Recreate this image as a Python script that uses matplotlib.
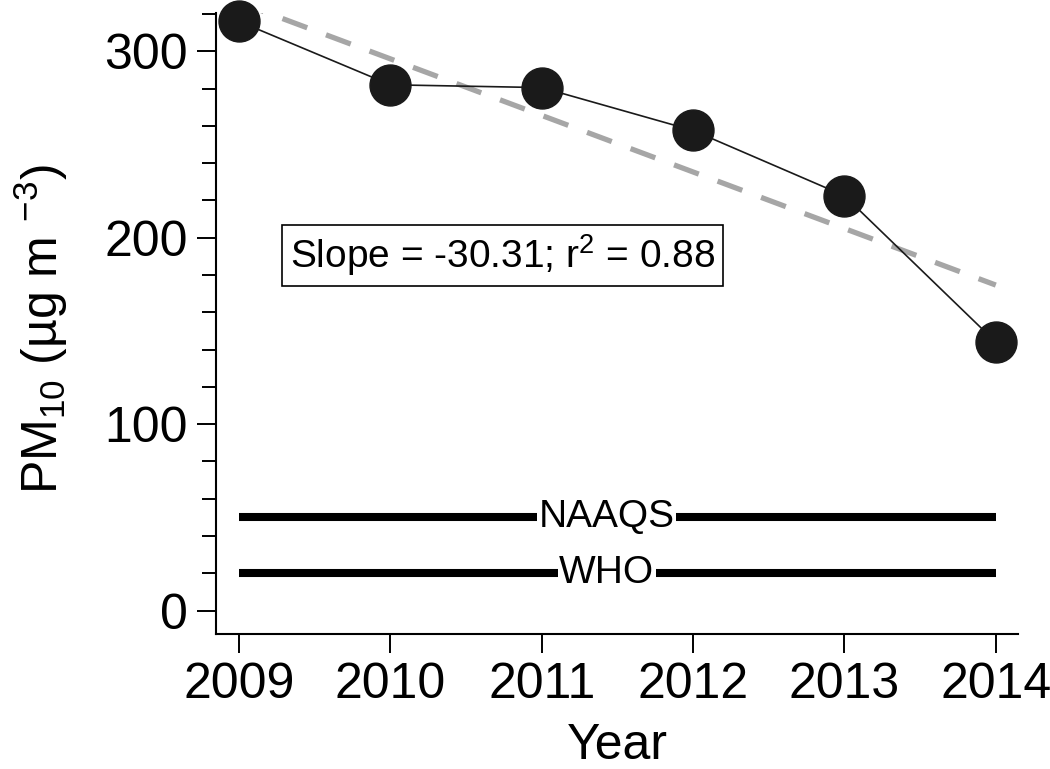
import numpy as np
import matplotlib
matplotlib.use("Agg")
import matplotlib.pyplot as plt
from matplotlib.ticker import MultipleLocator

plt.rcParams['font.family'] = ['Liberation Sans', 'DejaVu Sans']
plt.rcParams['mathtext.fontset'] = 'custom'
plt.rcParams['mathtext.rm'] = 'Liberation Sans'

# --- datos ---
years = np.array([2009, 2010, 2011, 2012, 2013, 2014])
pm10 = np.array([316, 282, 280.5, 257.5, 222.5, 144])
naaqs = 50
who = 20
slope_txt = 'Slope = -30.31; r$\\mathregular{^2}$ = 0.88'

# tendencia lineal
coef = np.polyfit(years, pm10, 1)
trend = np.polyval(coef, years)

fig = plt.figure(figsize=(10.5, 7.69), dpi=100)
ax = fig.add_axes([0.2057, 0.1756, 0.7643, 0.8075])

ax.plot(years, trend, color='#a6a6a6', lw=3.8, dashes=(5, 3.8), zorder=2)
ax.plot(years, pm10, color='#1a1a1a', lw=1.2, marker='o', ms=29.5,
        mfc='#1a1a1a', mec='#1a1a1a', zorder=3, clip_on=False)

# límites de norma
for val, name in [(naaqs, 'NAAQS'), (who, 'WHO')]:
    ax.plot([years[0], years[-1]], [val, val], color='black', lw=5.8,
            solid_capstyle='butt', zorder=2)
    ax.text(2011.43, val, name, fontsize=28, ha='center', va='center',
            bbox=dict(facecolor='white', edgecolor='none', pad=1), zorder=4)

ax.text(2010.74, 190.5, slope_txt, fontsize=28, ha='center', va='center',
        bbox=dict(boxstyle='square,pad=0.2', facecolor='white',
                  edgecolor='black', lw=1.2), zorder=4)

ax.set_xlim(2008.848, 2014.15)
ax.set_ylim(-12.5, 320.5)
ax.set_xticks(years)
ax.yaxis.set_major_locator(MultipleLocator(100))
ax.yaxis.set_minor_locator(MultipleLocator(20))

for s in ['top', 'right']:
    ax.spines[s].set_visible(False)
for s in ['left', 'bottom']:
    ax.spines[s].set_linewidth(1.5)

ax.tick_params(axis='both', which='major', direction='out', length=14,
               width=1.4, labelsize=36, pad=6)
ax.tick_params(axis='y', which='minor', direction='out', length=10, width=1.4)

ax.set_xlabel('Year', fontsize=36)
ax.set_ylabel('PM$\\mathregular{_{10}}$ (µg m $\\mathregular{^{-3}}$)', fontsize=36)
ax.xaxis.set_label_coords(0.5, -0.143)
ax.yaxis.set_label_coords(-0.182, 0.49)

plt.savefig('out.png', dpi=100)
